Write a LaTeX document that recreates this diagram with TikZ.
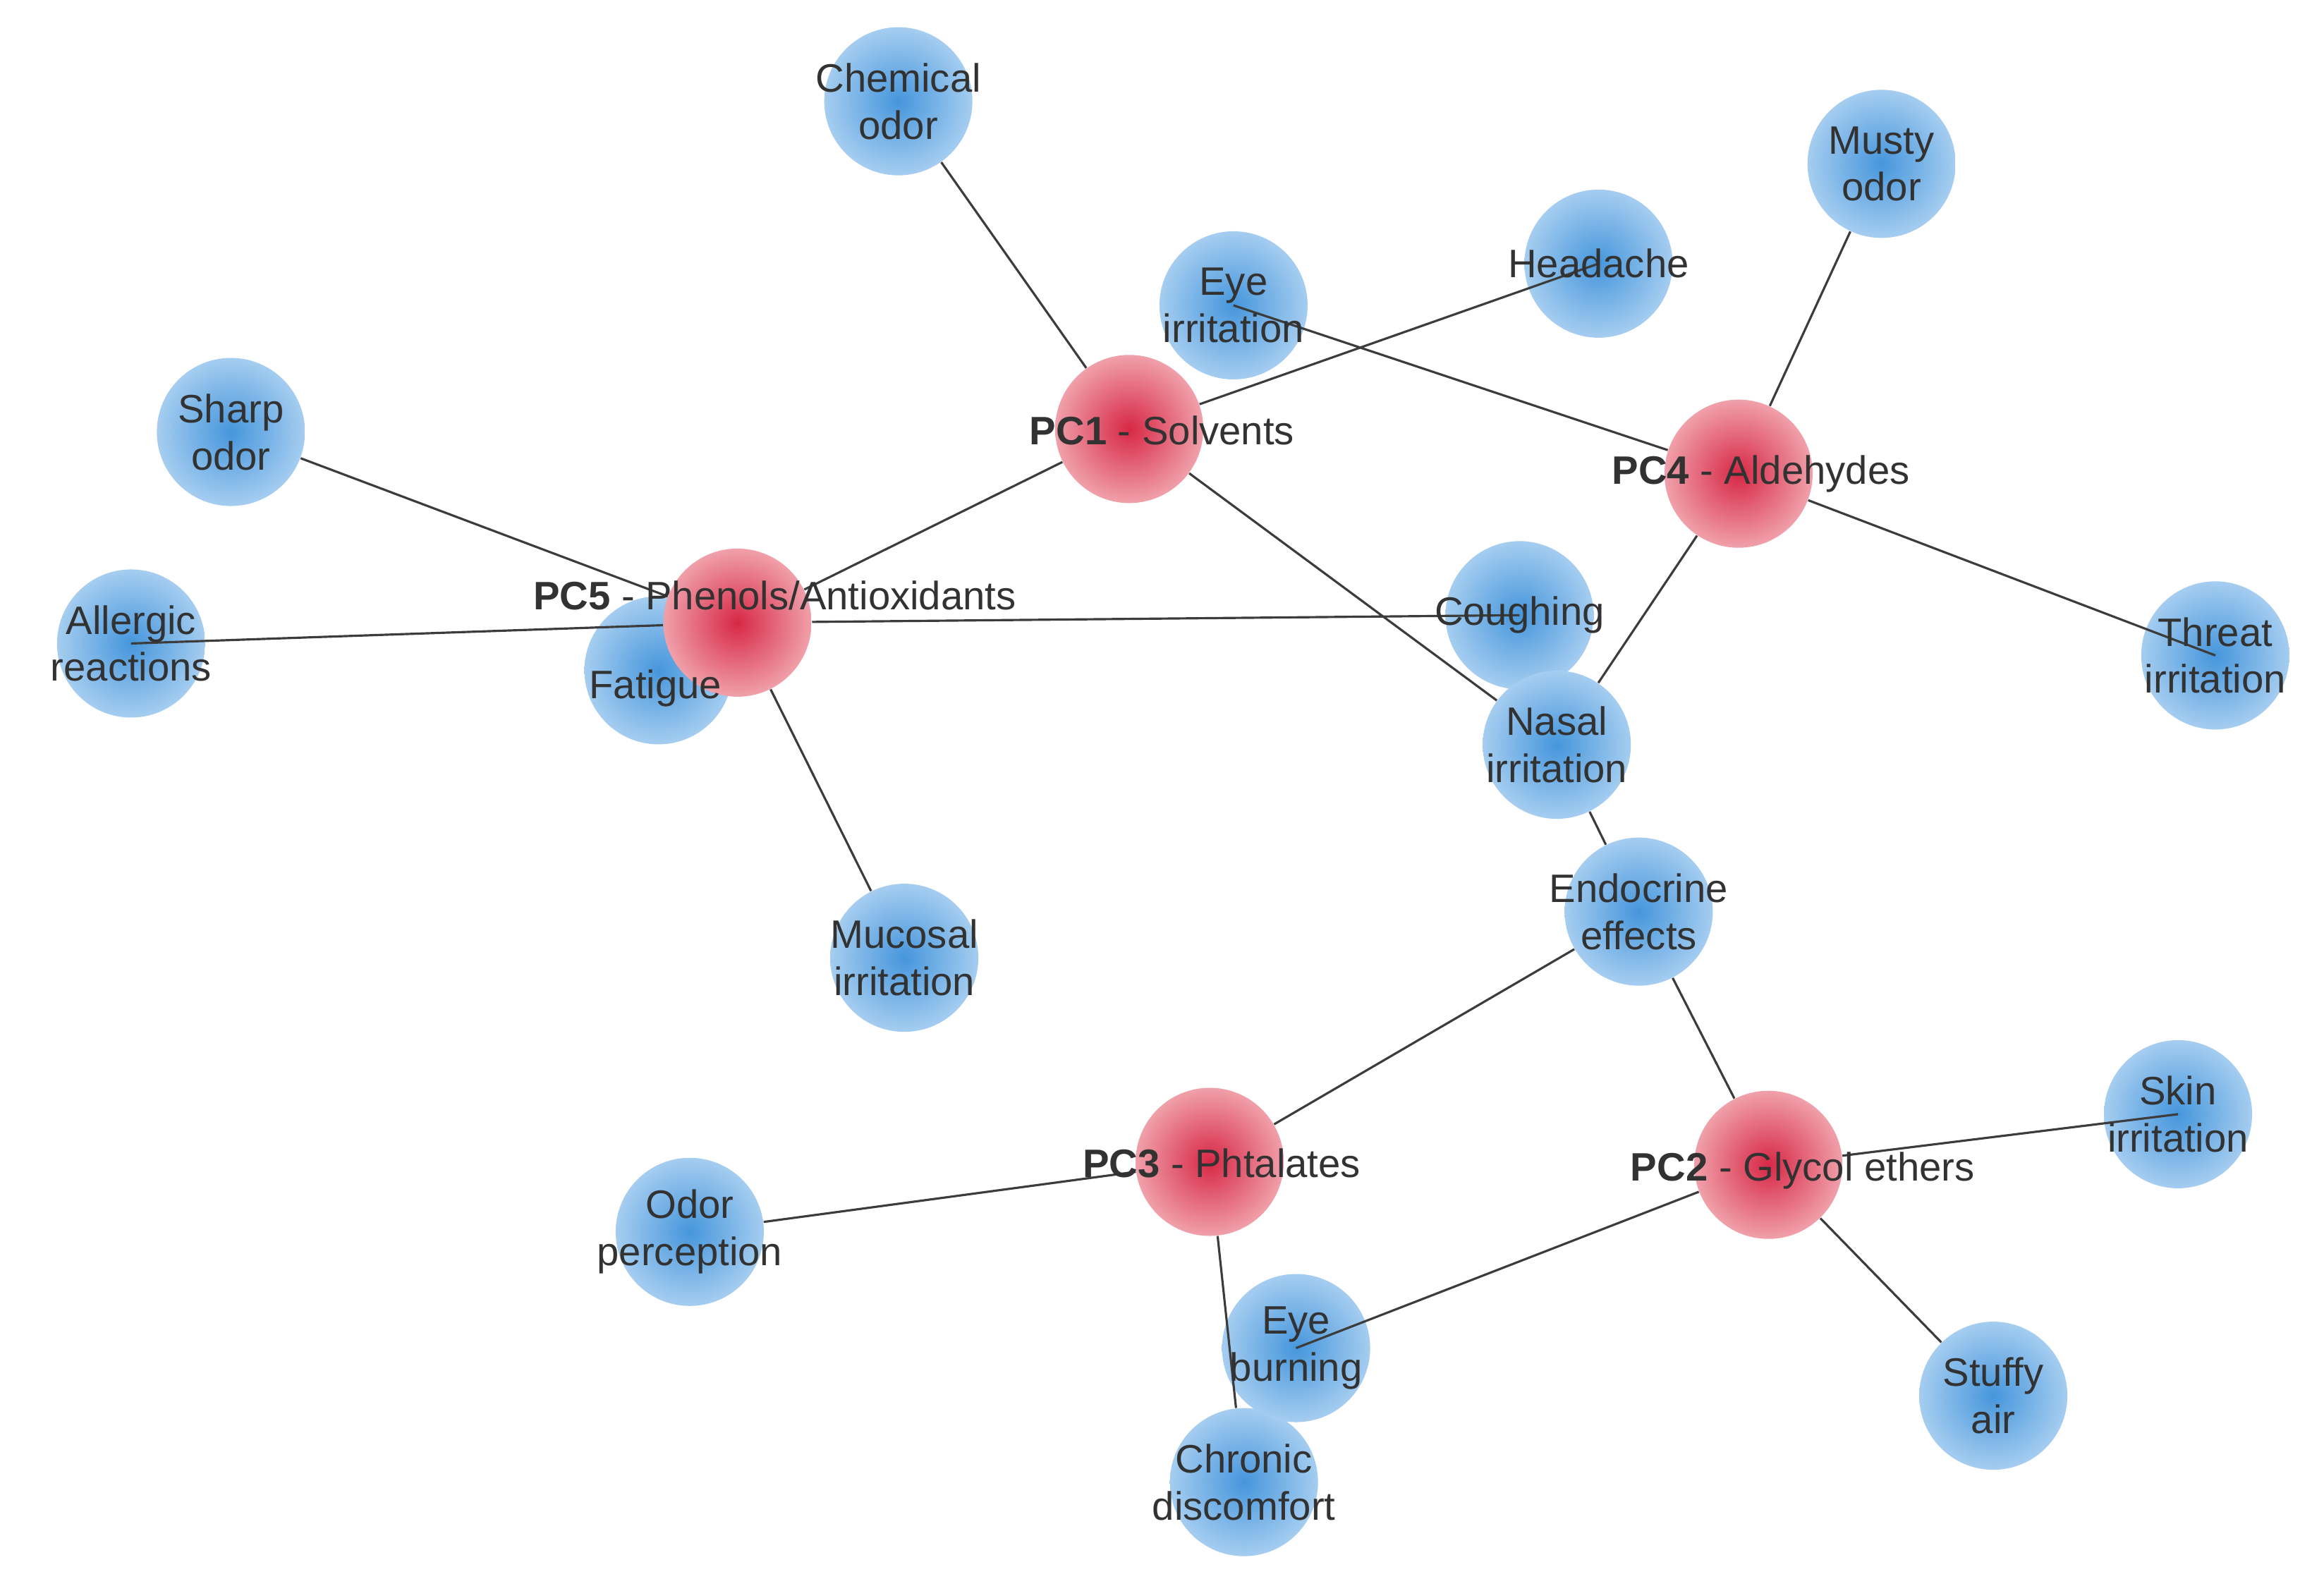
\documentclass[tikz,border=0pt]{standalone}
\usepackage{fontspec}
\setmainfont{Liberation Sans}
\begin{document}
\begin{tikzpicture}[x=0.02112cm,y=-0.02112cm,
  blue/.style={circle,minimum size=2.1cm,inner sep=0,shading=radial,inner color={rgb,255:red,70;green,150;blue,220},outer color={rgb,255:red,165;green,205;blue,240}},
  red/.style={circle,minimum size=2.1cm,inner sep=0,shading=radial,inner color={rgb,255:red,215;green,40;blue,70},outer color={rgb,255:red,240;green,160;blue,170}},
  lbl/.style={align=center,font=\fontsize{16}{19}\selectfont,text={rgb,255:red,50;green,50;blue,50}},
  edge/.style={draw={rgb,255:red,60;green,60;blue,60},line width=0.9pt}]
\useasboundingbox (0,0) rectangle (1560,1060);
\node[blue] (chem) at (603,68) {};
\node[blue] (eyeirr) at (828,205) {};
\node[blue] (head) at (1073,177) {};
\node[blue] (musty) at (1263,110) {};
\node[red] (pc1) at (758,288) {};
\node[red] (pc4) at (1167,318) {};
\node[blue] (sharp) at (155,290) {};
\node[blue] (allerg) at (88,432) {};
\node[blue] (fat) at (442,450) {};
\node[red] (pc5) at (495,418) {};
\node[blue] (cough) at (1020,413) {};
\node[blue] (threat) at (1487,440) {};
\node[blue] (nasal) at (1045,500) {};
\node[blue] (endo) at (1100,612) {};
\node[blue] (muc) at (607,643) {};
\node[blue] (skin) at (1462,748) {};
\node[red] (pc3) at (812,780) {};
\node[red] (pc2) at (1187,782) {};
\node[blue] (odor) at (463,827) {};
\node[blue] (chron) at (835,995) {};
\node[blue] (eyeb) at (870,905) {};
\node[blue] (stuffy) at (1338,937) {};
\path[edge] (chem)--(pc1) (eyeirr.center)--(pc4) (pc1)--(head.center) (musty)--(pc4)
 (pc1)--(pc5) (pc1)--(nasal) (pc4)--(nasal) (pc4)--(threat.center)
 (sharp)--(pc5) (allerg.center)--(pc5) (pc5)--(cough.center) (pc5)--(muc)
 (nasal)--(endo) (endo)--(pc3) (endo)--(pc2) (pc2)--(skin.center) (pc2)--(stuffy)
 (pc2)--(eyeb.center) (pc3)--(odor) (pc3)--(chron);
\node[lbl] at (chem) {Chemical\\odor};
\node[lbl] at (eyeirr) {Eye\\irritation};
\node[lbl] at (head) {Headache};
\node[lbl] at (musty) {Musty\\odor};
\node[lbl] at (sharp) {Sharp\\odor};
\node[lbl] at (allerg) {Allergic\\reactions};
\node[lbl] at (440,462) {Fatigue};
\node[lbl] at (cough) {Coughing};
\node[lbl] at (threat) {Threat\\irritation};
\node[lbl] at (nasal) {Nasal\\irritation};
\node[lbl] at (endo) {Endocrine\\effects};
\node[lbl] at (muc) {Mucosal\\irritation};
\node[lbl] at (skin) {Skin\\irritation};
\node[lbl] at (odor) {Odor\\perception};
\node[lbl] at (eyeb) {Eye\\burning};
\node[lbl] at (chron) {Chronic\\discomfort};
\node[lbl] at (stuffy) {Stuffy\\air};
\node[lbl] at (780,289) {\textbf{PC1} - Solvents};
\node[lbl] at (1182,318) {\textbf{PC4} - Aldehydes};
\node[lbl] at (520,400) {\textbf{PC5} - Phenols/Antioxidants};
\node[lbl] at (820,781) {\textbf{PC3} - Phtalates};
\node[lbl] at (1210,786) {\textbf{PC2} - Glycol ethers};
\end{tikzpicture}
\end{document}
